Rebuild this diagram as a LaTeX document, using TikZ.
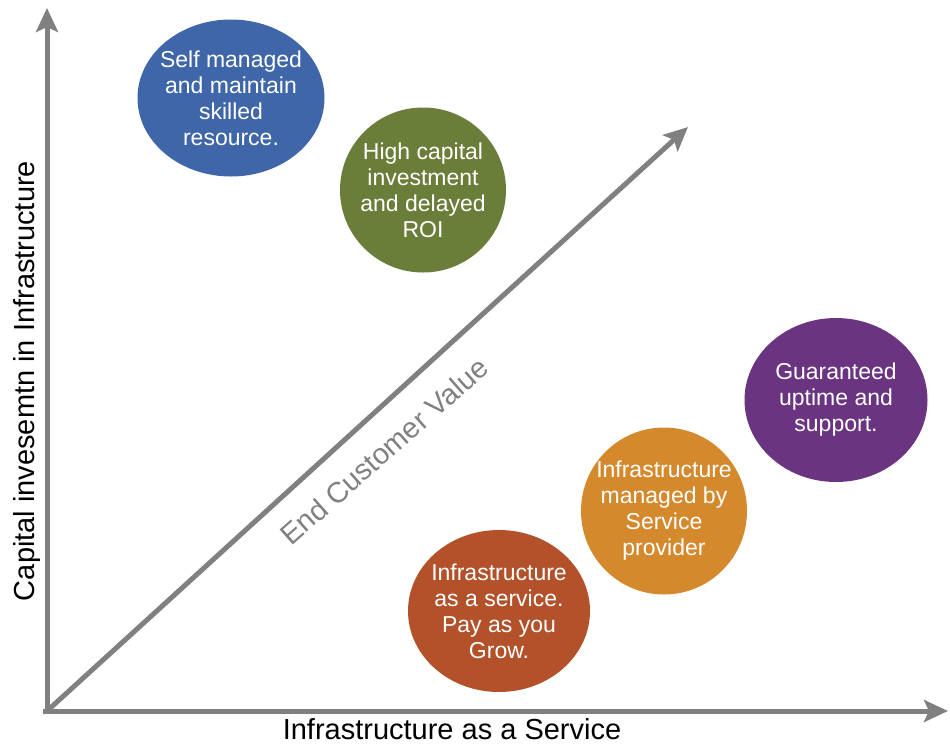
\documentclass[tikz,border=0pt]{standalone}
\usepackage{fontspec}
\setmainfont{Liberation Sans}
\usetikzlibrary{arrows.meta,shapes.geometric}
\definecolor{axisgray}{HTML}{808080}
\definecolor{cblue}{HTML}{3E66A8}
\definecolor{cgreen}{HTML}{6A7E3A}
\definecolor{cpurple}{HTML}{6A3480}
\definecolor{corange}{HTML}{D5892D}
\definecolor{crust}{HTML}{B3522A}
\tikzset{
  axisline/.style={draw=axisgray, line width=5pt, -{Stealth[length=24pt,width=22pt,inset=5pt]}},
  bubble/.style={ellipse, fill=#1, inner sep=0pt},
  bubtext/.style={text=white, align=center, inner sep=0pt,
    font=\fontsize{23}{26}\selectfont},
  axislabel/.style={font=\fontsize{29}{32}\selectfont, text=black},
}
\begin{document}
\begin{tikzpicture}[x=1pt,y=-1pt]
\useasboundingbox (0,0) rectangle (950,745);
\coordinate (o) at (47,711);
\coordinate (ytip) at (47,8);
\coordinate (xstart) at (43,711);
\coordinate (xtip) at (948,711);
\coordinate (dtip) at (688,127);
\draw[axisline] (47,713) -- (ytip);
\draw[axisline] (xstart) -- (xtip);
\draw[axisline] (o) -- (dtip);

\node[bubble=cblue, minimum width=187pt, minimum height=157pt] (b1) at (231,98) {};
\node[bubtext] (t1) at (b1) {Self managed\\and maintain\\skilled\\resource.};
\node[bubble=cgreen, minimum width=166pt, minimum height=165pt] (b2) at (423,190) {};
\node[bubtext] (t2) at (b2) {High capital\\investment\\and delayed\\ROI};
\node[bubble=cpurple, minimum width=183pt, minimum height=164pt] (b3) at (836,400) {};
\node[bubtext] (t3) at (b3) {Guaranteed\\uptime and\\support.};
\node[bubble=corange, minimum width=166pt, minimum height=167pt] (b4) at (664,511) {};
\node[bubtext] (t4) at (b4) {Infrastructure\\managed by\\Service\\provider};
\node[bubble=crust, minimum width=182pt, minimum height=162pt] (b5) at (499,611) {};
\node[bubtext] (t5) at (b5) {Infrastructure\\as a service.\\Pay as you\\Grow.};

\node[axislabel, rotate=90] (ylab) at (27,381) {Capital invesemtn in Infrastructure};
\node[axislabel] (xlab) at (452,729) {Infrastructure as a Service};
\node[axislabel, text=axisgray, rotate=41.5] (dlab) at (384,451) {End Customer Value};
\end{tikzpicture}
\end{document}
